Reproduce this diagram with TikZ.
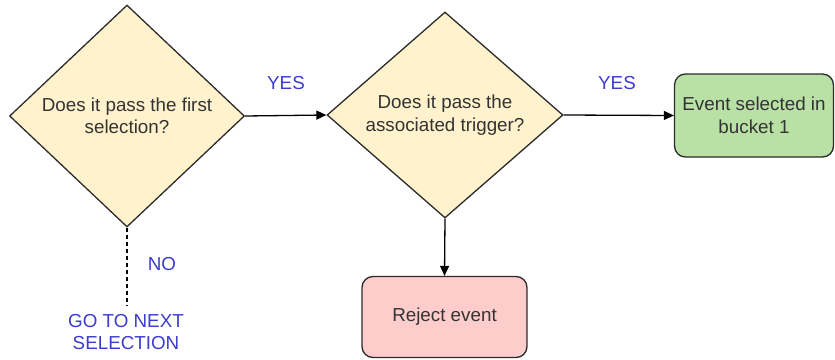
\documentclass[tikz,border=0pt]{standalone}
\usepackage{fontspec}
\setmainfont{Liberation Sans}
\usetikzlibrary{shapes.geometric,arrows.meta}
\definecolor{dfill}{HTML}{FFF2CC}
\definecolor{gfill}{HTML}{B9E0A5}
\definecolor{rfill}{HTML}{FFCCCC}
\definecolor{lblue}{HTML}{3C3CCF}
\definecolor{txt}{HTML}{333333}
\definecolor{edge}{HTML}{2B2B2B}
\begin{document}
\begin{tikzpicture}[x=1pt,y=-1pt,
  every node/.style={font=\fontsize{18.8}{22.5}\selectfont, text=txt, align=center},
  dec/.style={diamond, draw=edge, line width=1.3pt, fill=dfill, inner sep=0pt},
  rbox/.style={rectangle, rounded corners=11pt, draw=edge, line width=1.3pt},
  lbl/.style={text=lblue},
  conn/.style={line width=1.3pt, draw=black, -{Triangle[length=10pt,width=9pt]}}]
\useasboundingbox (0,0) rectangle (835,359);
\node[dec, minimum width=235pt, minimum height=222pt] (d1) at (127,116) {Does it pass the first\\selection?};
\node[dec, minimum width=236pt, minimum height=206pt] (d2) at (445,115) {Does it pass the\\associated trigger?};
\node[rbox, fill=gfill, minimum width=159pt, minimum height=83pt] (g) at (754,115.5) {Event selected in\\bucket 1};
\node[rbox, fill=rfill, minimum width=165pt, minimum height=81pt] (r) at (444.5,317) {Reject event};
\coordinate (dn) at (127,305);
\draw[conn] (d1.east) -- (d2.west);
\draw[conn] (d2.east) -- (g.west);
\draw[conn] (d2.south) -- (r.north);
\draw[line width=1.3pt, dash pattern=on 4pt off 3pt] (d1.south) -- (dn);
\node[lbl] (y1) at (286,83) {YES};
\node[lbl] (y2) at (617,83) {YES};
\node[lbl] (no) at (162,264) {NO};
\node[lbl] (go) at (126,332) {GO TO NEXT\\SELECTION};
\end{tikzpicture}
\end{document}
